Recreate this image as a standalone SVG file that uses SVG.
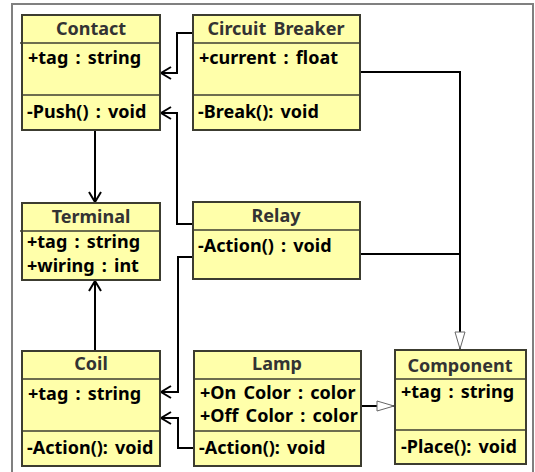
<svg xmlns="http://www.w3.org/2000/svg" width="535" height="472" viewBox="0 0 535 472">
<style>
.box{fill:#FFFFAA;stroke:#3C3C30;stroke-width:2}
.div{stroke:#3C3C30;stroke-width:1.5}
.t{font-family:"Noto Sans","Liberation Sans",sans-serif;font-weight:bold;font-size:18px;word-spacing:2.5px;fill:#000}
.h{text-anchor:middle;fill:#333}
.c{fill:none;stroke:#000;stroke-width:2}
</style>
<defs>
<marker id="open" markerWidth="12" markerHeight="14" refX="11" refY="7" orient="auto" markerUnits="userSpaceOnUse">
<path d="M1,1 L11,7 L1,13" fill="none" stroke="#000" stroke-width="2"/>
</marker>
<marker id="tri" markerWidth="20" markerHeight="12" refX="18" refY="6" orient="auto" markerUnits="userSpaceOnUse">
<path d="M1,1 L18,6 L1,11 Z" fill="#fff" stroke="#666" stroke-width="1"/>
</marker>
</defs>
<rect x="12" y="4" width="521" height="480" fill="#fff" stroke="#808080" stroke-width="2"/>

<g id="connectors">
<path class="c" d="M95,130 V202" marker-end="url(#open)"/>
<path class="c" d="M95,351 V281" marker-end="url(#open)"/>
<path class="c" d="M193,33 H177 V73 H161" marker-end="url(#open)"/>
<path class="c" d="M193,224 H177 V113 H161" marker-end="url(#open)"/>
<path class="c" d="M193,257 H178 V392 H161" marker-end="url(#open)"/>
<path class="c" d="M194,448 H178 V418 H161" marker-end="url(#open)"/>
<path class="c" d="M360,72 H460 V349" marker-end="url(#tri)"/>
<path class="c" d="M360,254 H460"/>
<path class="c" d="M361,406 H394" marker-end="url(#tri)"/>
</g>

<g id="contact">
<rect class="box" x="22" y="15" width="138" height="115"/>
<line class="div" x1="20" y1="43" x2="160" y2="43"/>
<line class="div" x1="22" y1="95" x2="160" y2="95"/>
<text class="t h" x="91" y="35">Contact</text>
<text class="t" x="28" y="64">+tag : string</text>
<text class="t" x="27" y="118">-Push() : void</text>
</g>

<g id="circuit-breaker">
<rect class="box" x="193" y="15" width="167" height="115"/>
<line class="div" x1="193" y1="43" x2="360" y2="43"/>
<line class="div" x1="193" y1="95" x2="360" y2="95"/>
<text class="t h" x="276" y="35">Circuit Breaker</text>
<text class="t" x="199" y="64">+current : float</text>
<text class="t" x="198" y="118">-Break(): void</text>
</g>

<g id="terminal">
<rect class="box" x="22" y="203" width="138" height="77"/>
<line class="div" x1="20" y1="231" x2="160" y2="231"/>
<text class="t h" x="91" y="223">Terminal</text>
<text class="t" x="27" y="248">+tag : string</text>
<text class="t" x="27" y="272">+wiring : int</text>
</g>

<g id="relay">
<rect class="box" x="193" y="202" width="167" height="77"/>
<line class="div" x1="193" y1="230" x2="360" y2="230"/>
<text class="t h" x="276" y="222">Relay</text>
<text class="t" x="198" y="252">-Action() : void</text>
</g>

<g id="coil">
<rect class="box" x="22" y="351" width="138" height="115"/>
<line class="div" x1="22" y1="379" x2="160" y2="379"/>
<line class="div" x1="22" y1="431" x2="160" y2="431"/>
<text class="t h" x="91" y="370">Coil</text>
<text class="t" x="28" y="400">+tag : string</text>
<text class="t" x="27" y="454">-Action(): void</text>
</g>

<g id="lamp">
<rect class="box" x="194" y="351" width="167" height="115"/>
<line class="div" x1="194" y1="379" x2="361" y2="379"/>
<line class="div" x1="194" y1="431" x2="361" y2="431"/>
<text class="t h" x="277" y="370">Lamp</text>
<text class="t" x="200" y="399">+On Color : color</text>
<text class="t" x="200" y="422">+Off Color : color</text>
<text class="t" x="199" y="454">-Action(): void</text>
</g>

<g id="component">
<rect class="box" x="395" y="350" width="131" height="114"/>
<line class="div" x1="395" y1="379" x2="526" y2="379"/>
<line class="div" x1="395" y1="430" x2="526" y2="430"/>
<text class="t h" x="460" y="372">Component</text>
<text class="t" x="401" y="398">+tag : string</text>
<text class="t" x="401" y="453">-Place(): void</text>
</g>
</svg>
